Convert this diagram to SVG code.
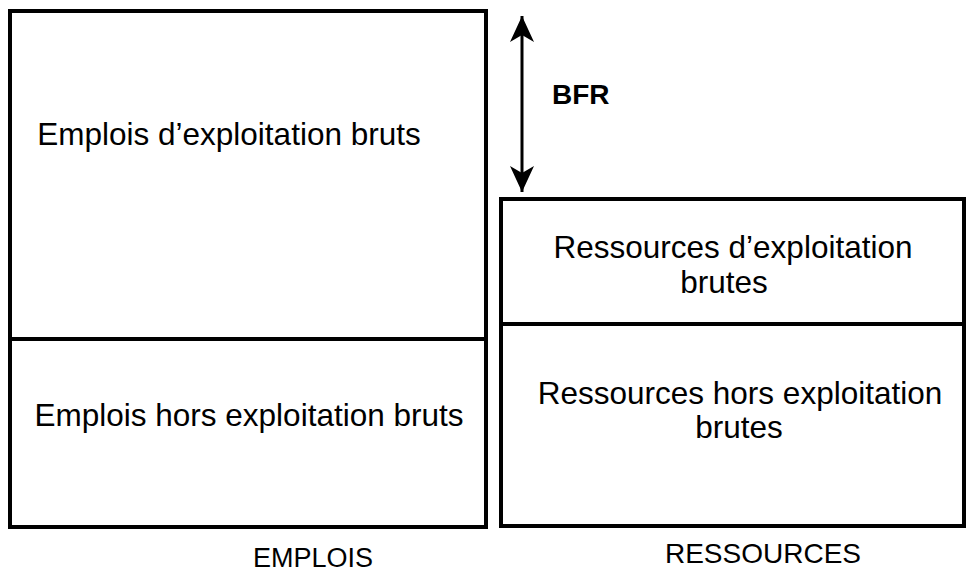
<svg xmlns="http://www.w3.org/2000/svg" width="967" height="583" viewBox="0 0 967 583">
<style>
.box{fill:none;stroke:#000;stroke-width:4}
.t{font-family:"Liberation Sans",Arial,sans-serif;font-size:31.5px;fill:#000;text-anchor:middle}
.lbl{font-family:"Liberation Sans",Arial,sans-serif;font-size:27px;fill:#000;text-anchor:middle}
.b{font-family:"Liberation Sans",Arial,sans-serif;font-size:28px;font-weight:bold;fill:#000}
</style>
<defs>
<marker id="ah" viewBox="0 0 26 24" refX="26" refY="12" markerWidth="26" markerHeight="24" markerUnits="userSpaceOnUse" orient="auto-start-reverse">
<path d="M0,0 L26,12 L0,24 L7,12 Z" fill="#000"/>
</marker>
</defs>
<rect width="967" height="583" fill="#fff"/>
<g id="emplois">
<rect class="box" x="10" y="11" width="476" height="516"/>
<line class="box" x1="10" y1="339" x2="486" y2="339"/>
<g id="emplois-exploitation"><text class="t" x="229" y="145">Emplois d’exploitation bruts</text></g>
<g id="emplois-hors"><text class="t" x="249" y="426">Emplois hors exploitation bruts</text></g>
<g id="label-emplois"><text class="lbl" x="313" y="567">EMPLOIS</text></g>
</g>
<g id="ressources">
<rect class="box" x="501" y="199" width="463" height="327"/>
<line class="box" x1="501" y1="324" x2="964" y2="324"/>
<g id="ressources-exploitation"><text class="t" x="733" y="258">Ressources d’exploitation</text><text class="t" x="724" y="293">brutes</text></g>
<g id="ressources-hors"><text class="t" x="740" y="404">Ressources hors exploitation</text><text class="t" x="739" y="438">brutes</text></g>
<g id="label-ressources"><text class="lbl" x="763" y="563" style="font-size:28px">RESSOURCES</text></g>
</g>
<g id="bfr"><text class="b" x="552" y="104">BFR</text></g>
<g id="connectors">
<line x1="522" y1="192" x2="522" y2="16" stroke="#000" stroke-width="3" marker-start="url(#ah)" marker-end="url(#ah)"/>
</g>
</svg>
